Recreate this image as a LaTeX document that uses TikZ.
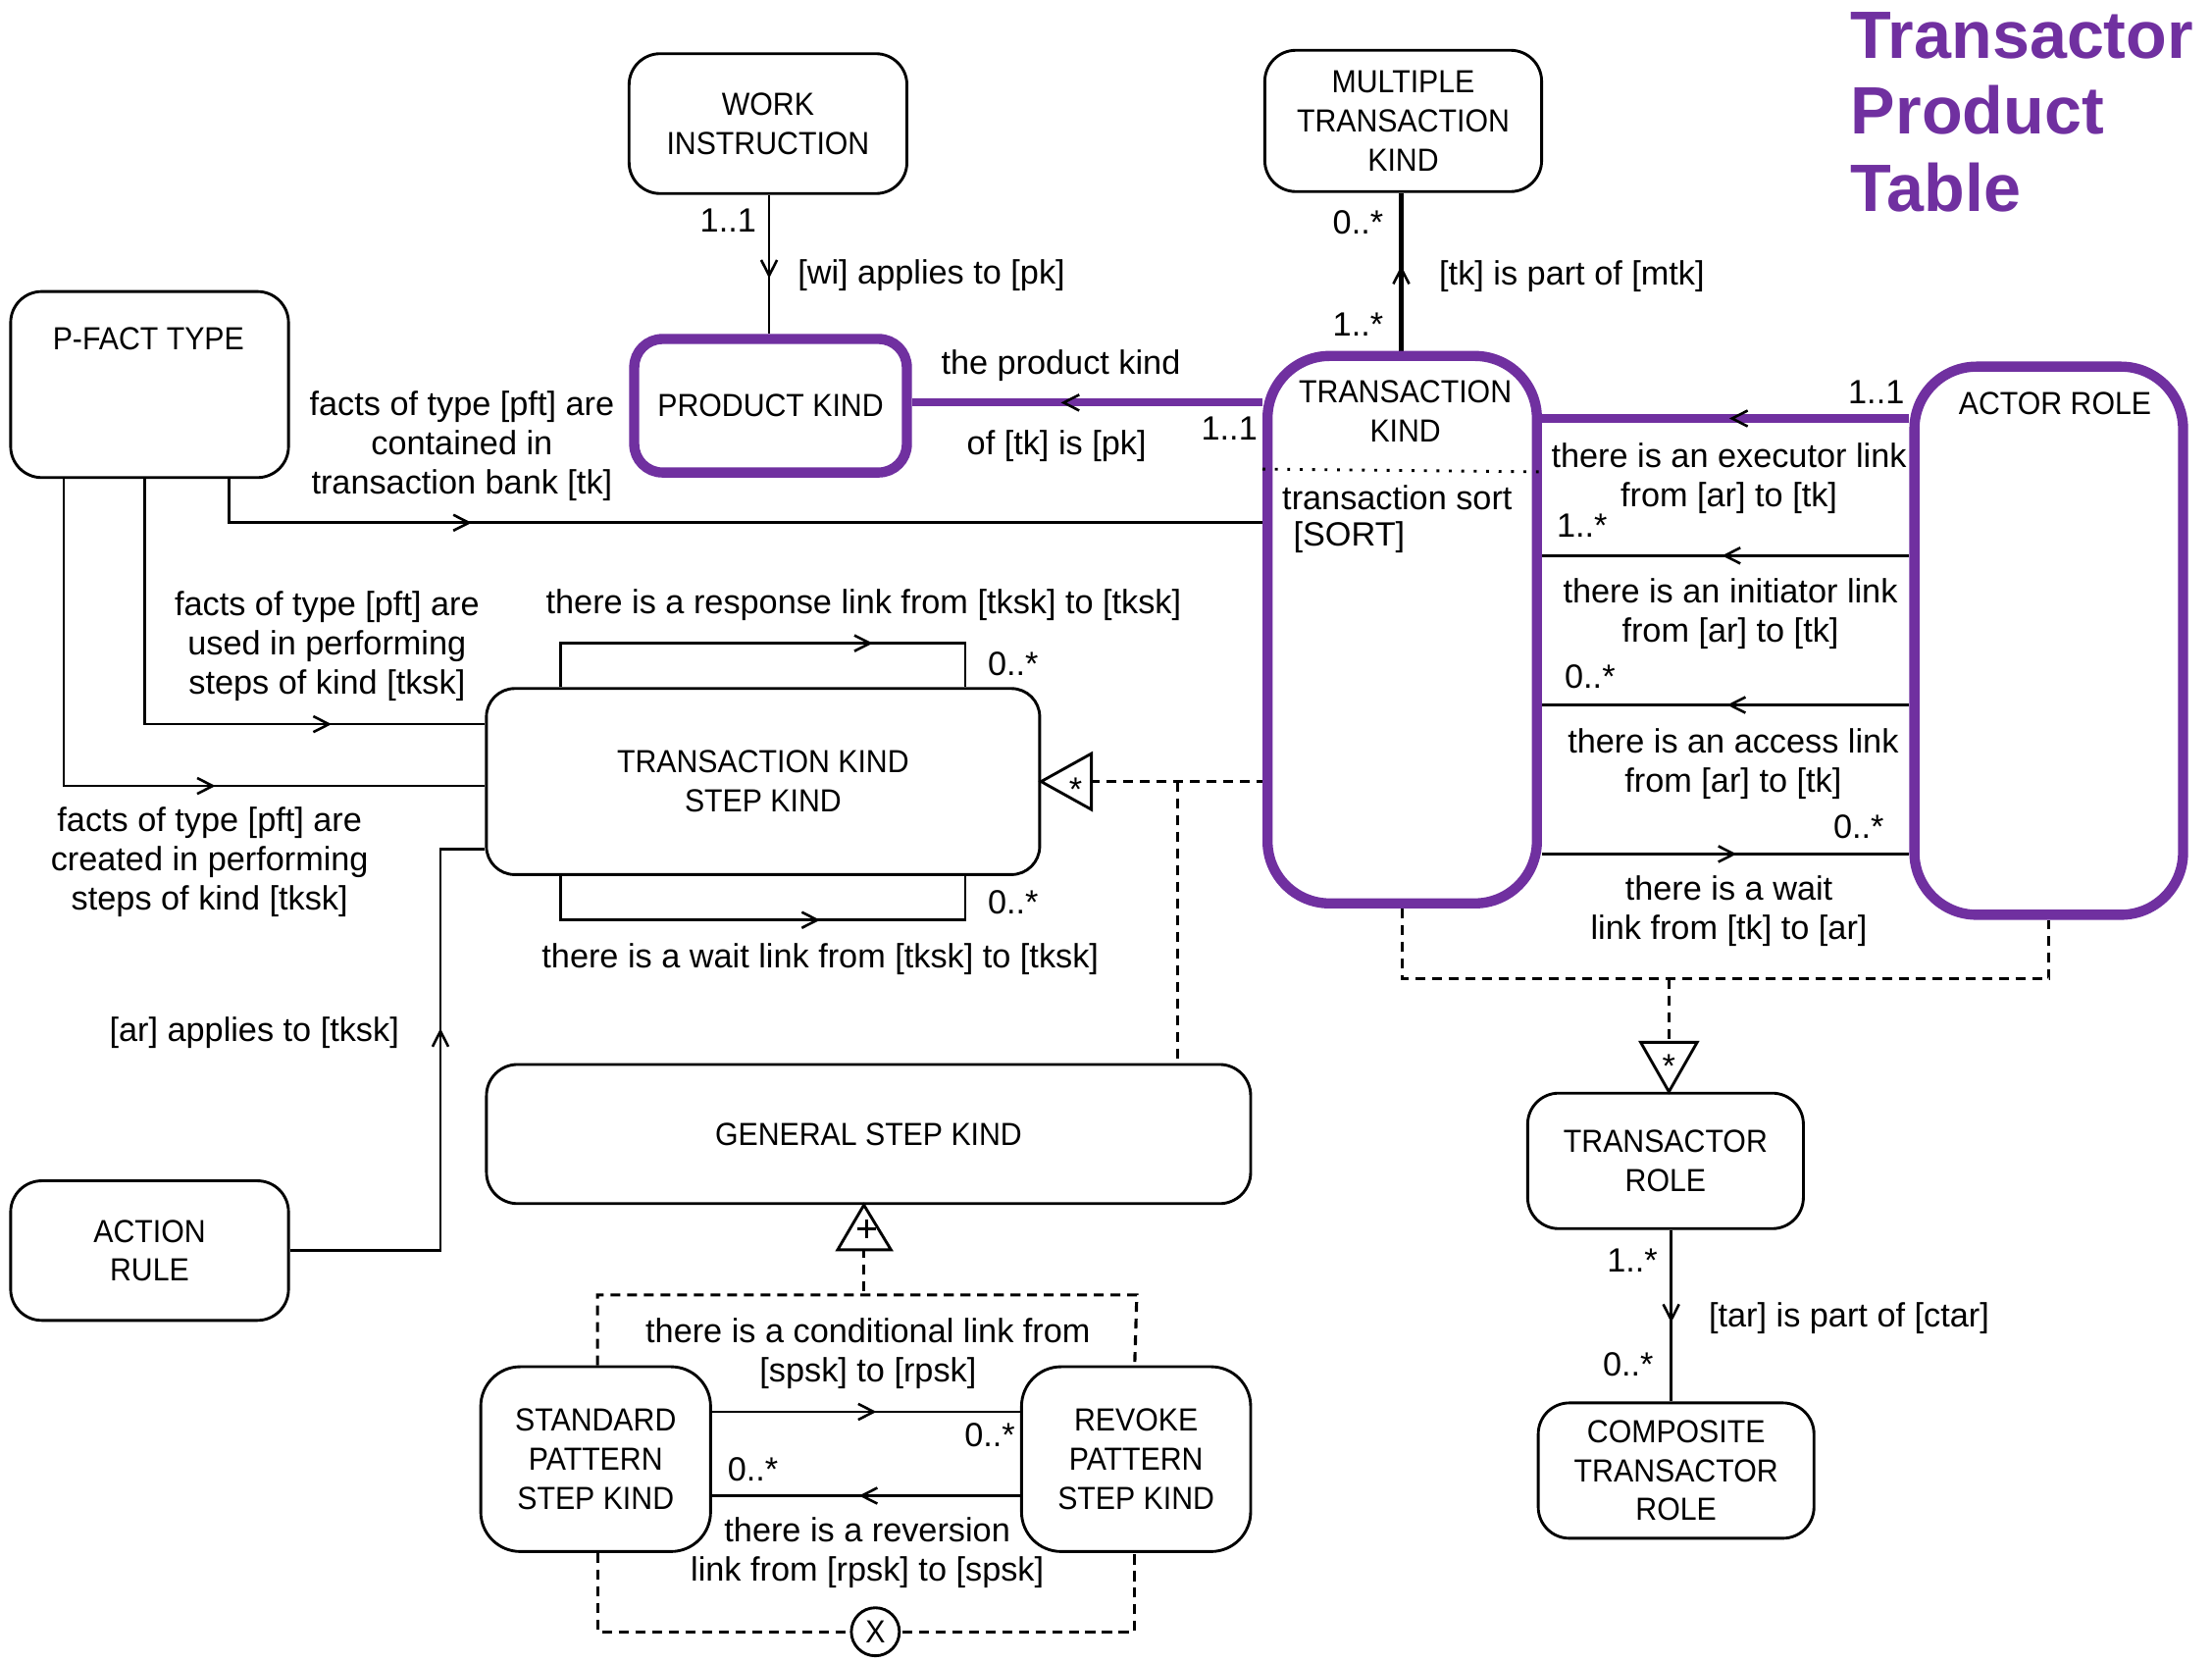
\documentclass[tikz,border=0pt]{standalone}
\usepackage{fontspec}
\setmainfont{Liberation Sans}
\newfontfamily\capsfont[FakeStretch=0.93]{Liberation Sans}
\usetikzlibrary{arrows.meta,decorations.markings}
\definecolor{purp}{HTML}{7030A0}
\pgfdeclarelayer{bg}
\pgfsetlayers{bg,main}
\tikzset{
  lab/.style={font=\fontsize{11.9pt}{13.8pt}\selectfont, inner sep=0pt, align=center},
  boxtxt/.style={font=\capsfont\fontsize{11.3pt}{13.8pt}\selectfont, inner sep=0pt, align=center},
  box/.style={draw, line width=1pt, rounded corners=11pt, align=center, inner sep=0pt, font=\capsfont\fontsize{11.3pt}{13.8pt}\selectfont},
  pbox/.style={box, draw=purp, line width=3.6pt, rounded corners=10pt},
  sz/.style 2 args={minimum width=#1*0.5pt, minimum height=#2*0.5pt},
  conn/.style={line width=0.9pt},
  thickconn/.style={line width=1.9pt},
  pconn/.style={draw=purp, line width=2.8pt},
  dconn/.style={line width=1.1pt, dash pattern=on 3.5pt off 2.4pt},
  barb/.style={postaction={decorate, decoration={markings, mark=at position #1 with {\arrow{Straight Barb[length=5.5pt,width=5.6pt,line width=0.9pt,color=black]}}}}},
  sym/.style={draw, line width=1pt, fill=white, line join=miter},
  ttl/.style={font=\fontsize{23.7pt}{27pt}\selectfont\bfseries, text=purp, inner sep=0pt, anchor=base west},
}
\begin{document}
\begin{tikzpicture}[x=0.5pt,y=-0.5pt]
\useasboundingbox (0,0) rectangle (1566,1176.4);

% ---------- nodes ----------
\node[box, sz={196.7}{99}] (wi) at (543.7,87.5) {WORK\\INSTRUCTION};
\node[box, sz={196}{100}] (mtk) at (993.4,85.6) {MULTIPLE\\TRANSACTION\\KIND};
\node[box, sz={196.7}{131.7}] (pft) at (105.9,272.2) {};
\node[boxtxt] (pftt) at (105.1,239.8) {P-FACT TYPE};
\node[pbox, sz={193}{94.5}] (pk) at (545.5,287.2) {PRODUCT KIND};
\node[pbox, rounded corners=22pt, sz={190.7}{387.5}] (tk) at (992.7,445.7) {};
\node[boxtxt] (tkt) at (994.9,291.2) {TRANSACTION\\KIND};
\node[lab, anchor=west] (tks) at (907.4,352) {transaction sort};
\node[lab, anchor=west] (tkso) at (915.3,380.2) {[SORT]};
\node[pbox, rounded corners=22pt, sz={190.2}{388}] (ar) at (1450.4,453.5) {};
\node[boxtxt] (art) at (1454.9,285.3) {ACTOR ROLE};
\node[box, rounded corners=10pt, sz={391.7}{131.7}] (tksk) at (540.2,553.2) {TRANSACTION KIND\\STEP KIND};
\node[box, sz={541}{98.5}] (gsk) at (614.9,802.7) {GENERAL STEP KIND};
\node[box, sz={196.7}{98.8}] (arule) at (105.9,885.2) {ACTION\\RULE};
\node[box, rounded corners=14pt, sz={162.7}{130.8}] (spsk) at (421.7,1032.8) {STANDARD\\PATTERN\\STEP KIND};
\node[box, rounded corners=14pt, sz={162.2}{130.8}] (rpsk) at (804.3,1032.8) {REVOKE\\PATTERN\\STEP KIND};
\node[box, sz={195.2}{95.9}] (tr) at (1179.1,821.7) {TRANSACTOR\\ROLE};
\node[box, sz={195.2}{95.8}] (ctr) at (1186.6,1040.9) {COMPOSITE\\TRANSACTOR\\ROLE};

% title
\node[ttl] (t1) at (1310,41) {Transactor};
\node[ttl] (t2) at (1310,95) {Product};
\node[ttl] (t3) at (1310,150) {Table};

% ---------- helper coordinates ----------
\coordinate (ydot1) at (0,332);
\coordinate (ydot2) at (0,334);
\coordinate (yex) at (0,296.2);
\coordinate (yin) at (0,393.3);
\coordinate (yac) at (0,499);
\coordinate (ywt) at (0,604.5);
\coordinate (xc1) at (162,0);
\coordinate (xc2) at (102.6,0);
\coordinate (xc3) at (45,0);
\coordinate (yct) at (0,370);
\coordinate (yus) at (0,512.6);
\coordinate (ycr) at (0,556.3);
\coordinate (xar) at (311.8,0);
\coordinate (yar) at (0,601.1);
\coordinate (xl1) at (397,0);
\coordinate (xl2) at (683.3,0);
\coordinate (yrs) at (0,455.3);
\coordinate (yws) at (0,651.2);
\coordinate (xwi) at (544.5,0);
\coordinate (xmt) at (992,0);
\coordinate (xtr) at (1183.1,0);
\coordinate (ycd) at (0,999.3);
\coordinate (yrv) at (0,1058.7);
\coordinate (ypk) at (0,285);
\coordinate (sp1) at (771.6,553.3);
\coordinate (spj) at (833.9,553.3);
\coordinate (ydh) at (0,692.8);
\coordinate (xdm) at (1181.5,0);
\coordinate (tb) at (1181.5,738);
\coordinate (gb) at (611.6,883.6);
\coordinate (gf) at (611.6,916.6);
\coordinate (fl) at (423,916.6);
\coordinate (fr) at (804.8,916.6);
\coordinate (xfl) at (423,0);
\coordinate (xfr) at (803.3,0);
\coordinate (yfb) at (0,1155);

% ---------- connectors (behind the boxes) ----------
\begin{pgfonlayer}{bg}
\fill[white] (0,0) rectangle (1566,1176.4);
\draw[conn, barb=0.6] (wi.south -| xwi) -- (pk.north -| xwi);
\draw[thickconn, barb=0.54] (tk.north -| xmt) -- (mtk.south -| xmt);
\draw[pconn, barb=0.575] (tk.west |- ypk) -- (pk.east |- ypk);
\draw[pconn, barb=0.49] (ar.west |- yex) -- (tk.east |- yex);
\draw[conn, barb=0.51] (ar.west |- yin) -- (tk.east |- yin);
\draw[conn, barb=0.496] (ar.west |- yac) -- (tk.east |- yac);
\draw[conn, barb=0.53] (tk.east |- ywt) -- (ar.west |- ywt);
\draw[conn, barb=0.266] (pft.south -| xc1) -- (xc1 |- yct) -- (tk.west |- yct);
\draw[conn, barb=0.738] (pft.south -| xc2) -- (xc2 |- yus) -- (tksk.west |- yus);
\draw[conn, barb=0.63] (pft.south -| xc3) -- (xc3 |- ycr) -- (tksk.west |- ycr);
\draw[conn, barb=0.625] (arule.east) -- (xar |- arule.east) -- (xar |- yar) -- (tksk.west |- yar);
\draw[conn, barb=0.723] (tksk.north -| xl1) -- (xl1 |- yrs) -- (xl2 |- yrs) -- (tksk.north -| xl2);
\draw[conn, barb=0.616] (tksk.south -| xl1) -- (xl1 |- yws) -- (xl2 |- yws) -- (tksk.south -| xl2);
\draw[conn, barb=0.54] (tr.south -| xtr) -- (ctr.north -| xtr);
\draw[conn, barb=0.534] (spsk.east |- ycd) -- (rpsk.west |- ycd);
\draw[conn, barb=0.523] (rpsk.west |- yrv) -- (spsk.east |- yrv);
% dashed
\draw[dconn] (sp1) -- (tk.west |- sp1);
\draw[dconn] (spj) -- (gsk.north -| spj);
\draw[dconn] (tk.south) -- (tk.south |- ydh) -- (ar.south |- ydh) -- (ar.south);
\draw[dconn] (xdm |- ydh) -- (tb);
\draw[dconn] (gb) -- (gf);
\draw[dconn] (spsk.north -| xfl) -- (fl) -- (fr) -- (rpsk.north -| xfr);
\draw[dconn] (spsk.south -| xfl) -- (xfl |- yfb) -- (xfr |- yfb) -- (rpsk.south -| xfr);
\end{pgfonlayer}

% dotted separator in TRANSACTION KIND
\draw[line width=1pt, dash pattern=on 1pt off 3.4pt] (tk.west |- ydot1) -- (tk.east |- ydot2);

% ---------- symbols ----------
\draw[sym] (tksk.east) -- ++(35.6,-19.8) -- ++(0,39.6) -- cycle;
\node[lab] (st1) at (761.5,558.5) {*};
\draw[sym] (tr.north -| xdm) -- ++(-20,-35) -- ++(40,0) -- cycle;
\node[lab] (st2) at (1181.5,755) {*};
\draw[sym] (gsk.south -| gb) -- ++(-18.6,31.7) -- ++(37.8,0) -- cycle;
\draw[line width=1pt] (607,869.7) -- (620,869.7) (613.4,863.5) -- (613.4,876.2);
\node[circle, draw, line width=1pt, fill=white, minimum size=17pt, inner sep=0pt, font=\capsfont\fontsize{11.3pt}{13pt}\selectfont] (xor) at (619.7,1155) {X};

% ---------- labels ----------
\node[lab] (m1) at (515.5,156.2) {1..1};
\node[lab] (l1) at (659.4,195) {[wi] applies to [pk]};
\node[lab] (m2) at (961.4,157.3) {0..*};
\node[lab] (l2) at (1112.8,195.7) {[tk] is part of [mtk]};
\node[lab] (m3) at (961.4,229.6) {1..*};
\node[lab] (l3a) at (751,259) {the product kind};
\node[lab] (l3b) at (748,315.4) {of [tk] is [pk]};
\node[lab] (m4) at (870.3,303) {1..1};
\node[lab] (m5) at (1328.3,277.8) {1..1};
\node[lab] (l4) at (1224,338.6) {there is an executor link\\from [ar] to [tk]};
\node[lab] (m6) at (1120,371.9) {1..*};
\node[lab] (l5) at (1225,434.7) {there is an initiator link\\from [ar] to [tk]};
\node[lab] (m7) at (1125.6,478.8) {0..*};
\node[lab] (l6) at (1227,540.5) {there is an access link\\from [ar] to [tk]};
\node[lab] (m8) at (1315.8,585.3) {0..*};
\node[lab] (l7) at (1224,645.1) {there is a wait\\link from [tk] to [ar]};
\node[lab] (l8) at (327,315.6) {facts of type [pft] are\\contained in\\transaction bank [tk]};
\node[lab] (l9) at (231.5,457.3) {facts of type [pft] are\\used in performing\\steps of kind [tksk]};
\node[lab] (l10) at (148.4,610.1) {facts of type [pft] are\\created in performing\\steps of kind [tksk]};
\node[lab] (l11) at (611.4,428.3) {there is a response link from [tksk] to [tksk]};
\node[lab] (m9) at (717.2,469.7) {0..*};
\node[lab] (m10) at (717.2,638.7) {0..*};
\node[lab] (l12) at (580.7,679) {there is a wait link from [tksk] to [tksk]};
\node[lab] (l13) at (180,730.8) {[ar] applies to [tksk]};
\node[lab] (l14) at (614.5,958.1) {there is a conditional link from\\{}[spsk] to [rpsk]};
\node[lab] (m11) at (700.7,1015.5) {0..*};
\node[lab] (m12) at (533,1040) {0..*};
\node[lab] (l15) at (614,1098.8) {there is a reversion\\link from [rpsk] to [spsk]};
\node[lab] (m13) at (1155.6,892.1) {1..*};
\node[lab] (l16) at (1309,932.8) {[tar] is part of [ctar]};
\node[lab] (m14) at (1152.6,965.8) {0..*};
\end{tikzpicture}
\end{document}
